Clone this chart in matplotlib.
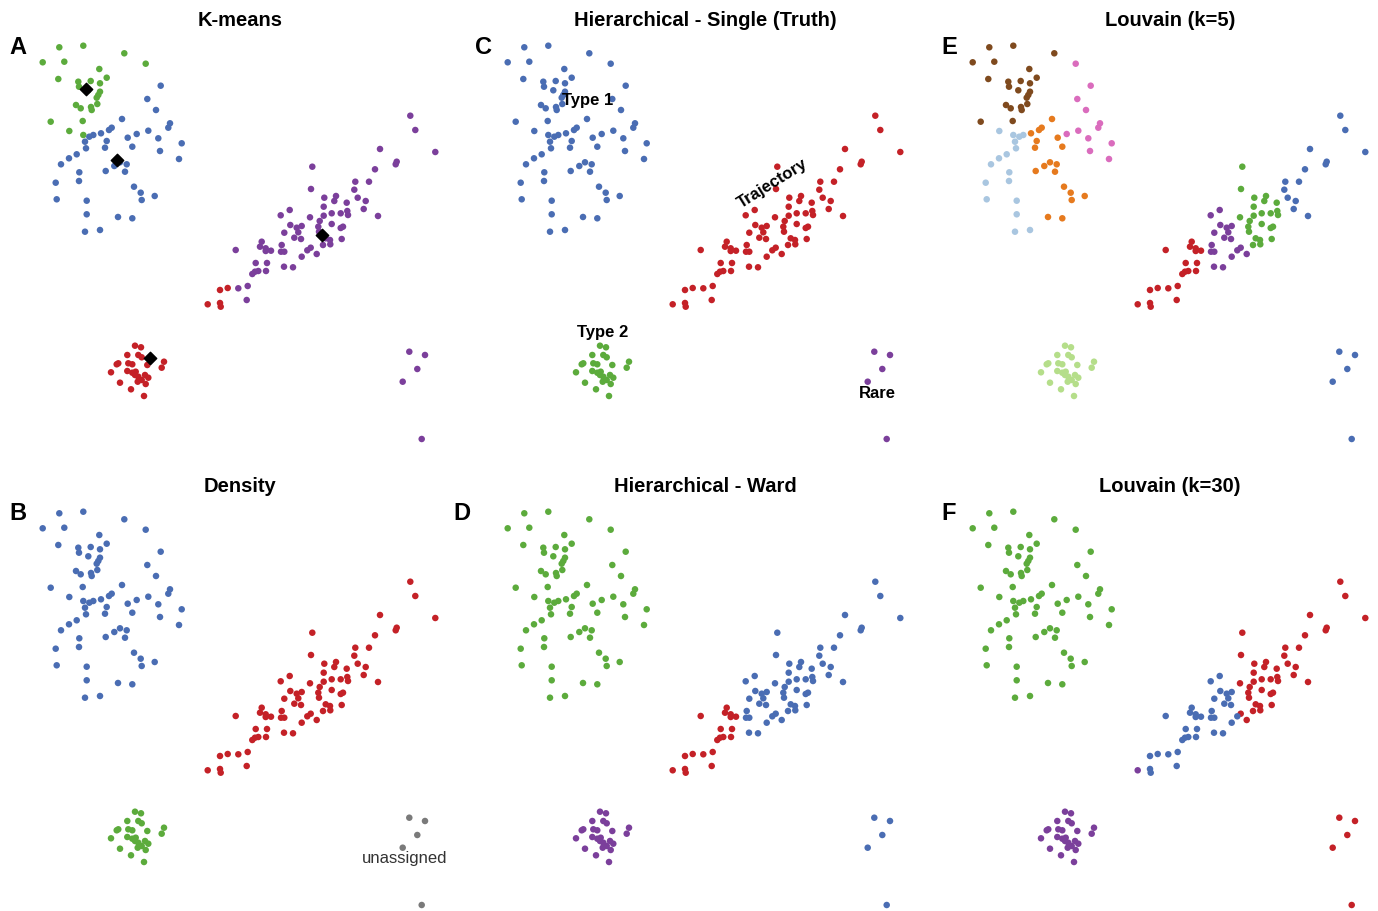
import matplotlib.pyplot as plt
import numpy as np

plt.rcParams["font.family"] = ["Liberation Sans", "DejaVu Sans"]

W, H = 1378, 911

# Shared embedding (same coordinates in every panel, panel-pixel units)
# Big cluster (Type 1)
big_x = [59.3, 83.3, 124.3, 42.7, 64.3, 99.3, 58.3, 106.7, 78.3, 90.7, 100.0, 79.0, 88.3,
         100.0, 98.3, 96.7, 76.0, 80.7, 91.0, 91.7, 97.3, 50.7, 82.7,
         145.7, 160.7, 147.3, 156.0, 170.0, 168.3, 148.3, 136.7, 158.3, 181.7, 160.0, 179.0,
         122.0, 111.7, 109.0, 101.0, 106.7, 127.7, 105.0, 132.3, 120.0, 114.3, 126.7, 105.7,
         125.0, 134.0, 140.7, 141.7, 154.7, 118.0, 132.3,
         69.3, 83.3, 89.3, 93.3, 85.0, 86.0, 76.7, 69.0, 61.0, 79.3, 55.7, 79.0, 56.7, 86.7,
         86.7, 100.0, 85.0]
big_y = [47.3, 45.7, 53.3, 62.3, 61.7, 69.0, 79.0, 77.7, 81.7, 81.0, 83.3, 86.7, 90.3,
         91.7, 95.0, 97.7, 105.0, 108.3, 107.0, 110.0, 104.0, 121.7, 121.0,
         63.7, 85.7, 99.0, 110.0, 123.3, 127.7, 130.7, 134.0, 138.3, 143.3, 151.0, 159.0,
         119.0, 127.7, 130.0, 133.3, 141.0, 137.7, 147.7, 146.7, 162.3, 166.0, 164.3, 171.0,
         171.7, 186.7, 192.7, 200.0, 196.0, 217.0, 218.3,
         131.0, 135.0, 136.7, 135.0, 141.7, 148.3, 154.3, 158.3, 164.3, 172.3, 182.7, 181.0,
         199.3, 200.7, 214.3, 230.0, 231.7]

# Trajectory
traj_x = [410.3, 415.3, 380.0, 435.3, 396.7, 395.7, 375.0, 355.3, 369.0, 354.3, 357.7, 365.7,
          363.7, 378.0,
          312.3, 311.0, 324.3, 336.0, 334.3, 346.7, 323.7, 347.3, 310.0, 323.7, 331.7, 340.7,
          348.0, 319.7, 331.7, 318.3, 319.0, 340.7, 343.0, 325.7, 330.0, 330.3, 341.7, 323.0,
          280.7, 289.7, 290.3, 284.3, 296.7, 301.7, 298.3, 294.3, 301.0, 281.7, 281.0, 284.3,
          310.7, 307.3, 316.7, 301.7, 284.0, 293.0,
          235.7, 261.7, 260.0, 265.7, 271.0, 265.7, 255.7, 267.0, 252.3, 255.0, 258.3, 266.0,
          238.3, 247.7, 227.7, 220.0, 207.7, 220.0, 220.7, 246.7]
traj_y = [115.7, 130.0, 149.0, 152.0, 161.7, 164.3, 169.3, 181.7, 181.7, 189.7, 197.7, 201.0,
          209.0, 216.0,
          166.7, 189.0, 197.7, 196.0, 201.0, 202.7, 206.7, 211.0, 217.3, 215.7, 213.3, 213.3,
          215.0, 221.0, 224.0, 226.7, 231.7, 228.0, 226.7, 238.3, 240.0, 244.3, 239.0, 245.0,
          215.3, 210.0, 225.0, 232.7, 227.7, 226.0, 232.3, 237.7, 239.0, 245.0, 251.7, 251.7,
          247.7, 250.3, 254.0, 256.7, 266.7, 267.3,
          250.0, 241.7, 246.7, 248.3, 250.7, 251.0, 263.0, 263.0, 274.0, 271.7, 271.0, 271.0,
          288.3, 286.0, 288.0, 290.0, 304.3, 303.0, 306.7, 300.0]

# Small cluster (Type 2)
small_x = [135.0, 141.0, 127.3, 138.3, 141.7, 118.3, 116.7, 128.3, 132.3, 164.0, 161.7, 147.3,
           111.0, 127.3, 132.3, 135.7, 135.0, 138.3, 145.0, 148.3, 120.0, 137.7, 141.7, 145.7,
           131.0, 144.0]
small_y = [345.7, 347.3, 355.0, 355.0, 357.3, 363.3, 364.3, 363.3, 364.3, 361.7, 367.7, 365.0,
           372.3, 371.0, 372.7, 371.7, 375.0, 376.7, 375.0, 377.7, 382.7, 381.7, 380.0, 384.0,
           389.3, 396.0]

# Rare cells
rare_x = [409.3, 425.0, 417.3, 402.7, 421.7]
rare_y = [351.7, 355.0, 369.0, 381.7, 439.0]

# Cluster codes, one character per point (big, trajectory, small, rare)
kmeans_labels = ["g" * 24 + "b" * 30 + "gg" + "b" * 15,
                 "u" * 70 + "rrrrr" + "u", "r" * 26, "u" * 5]
density_labels = ["b" * 71, "r" * 76, "g" * 26, "k" * 5]
truth_labels = ["b" * 71, "r" * 76, "g" * 26, "u" * 5]
ward_labels = ["g" * 71, "b" * 56 + "r" * 20, "u" * 26, "b" * 5]
louvain5_labels = ["n" * 23 + "p" * 12 + "o" * 19 + "l" * 17,
                   "b" * 14 + "g" * 24 + "u" * 18 + "r" * 20, "L" * 26, "b" * 5]
louvain30_labels = ["g" * 71,
                    "r" * 38 + "b" * 12 + "rbr" + "bbb" + "b" * 16 + "u" + "bbb",
                    "u" * 26, "r" * 5]

colors = {"b": "#4a6db3", "g": "#5cab3c", "r": "#c42127", "u": "#7b3f9b", "k": "#7a7a7a",
          "n": "#7f4a1e", "p": "#da6cbd", "o": "#e67a1e", "l": "#a9c6e0", "L": "#b5de8a"}

titles = ["K-means", "Density", "Hierarchical - Single (Truth)", "Hierarchical - Ward",
          "Louvain (k=5)", "Louvain (k=30)"]
letters = ["A", "B", "C", "D", "E", "F"]
letter_x = [18, 18, 483, 462, 949, 949]
panel_labels = [kmeans_labels, density_labels, truth_labels, ward_labels,
                louvain5_labels, louvain30_labels]

xs = np.array(big_x + traj_x + small_x + rare_x)
ys = np.array(big_y + traj_y + small_y + rare_y)

x0, x1, y0, y1 = 25, 457, 36, 443

fig = plt.figure(figsize=(W / 100, H / 100), dpi=100)

for i, (title, labs) in enumerate(zip(titles, panel_labels)):
    col, row = i // 2, i % 2
    dx, dy = 465 * col, 466 * row
    ax = fig.add_axes([(x0 + dx) / W, 1 - (y1 + dy) / H, (x1 - x0) / W, (y1 - y0) / H])
    ax.set_xlim(x0, x1)
    ax.set_ylim(y1, y0)
    ax.axis("off")

    codes = list("".join(labs))
    ax.scatter(xs, ys, c=[colors[c] for c in codes], s=22, linewidths=0, zorder=2)

    fig.text((240 + dx) / W, 1 - (20 + dy) / H, title, ha="center", va="center",
             fontsize=14.5, fontweight="bold")
    fig.text(letter_x[i] / W, 1 - (47 + dy) / H, letters[i], ha="center", va="center",
             fontsize=17, fontweight="bold")

    if title == "K-means":
        codes = np.array(codes)
        for k in ["g", "b", "u", "r"]:
            m = codes == k
            ax.scatter(xs[m].mean(), ys[m].mean(), marker="D", s=40, color="black", zorder=3)
    if title == "Density":
        ax.text(405, 392, "unassigned", ha="center", va="center", fontsize=12, color="#333333")
    if title.endswith("(Truth)"):
        kw = dict(ha="center", va="center", fontsize=12, fontweight="bold", zorder=4)
        ax.text(123, 101, "Type 1", **kw)
        ax.text(138, 333, "Type 2", **kw)
        ax.text(412, 394, "Rare", **kw)
        ax.text(308, 184, "Trajectory", rotation=32, rotation_mode="anchor", **kw)

fig.savefig("out.png", dpi=100)
